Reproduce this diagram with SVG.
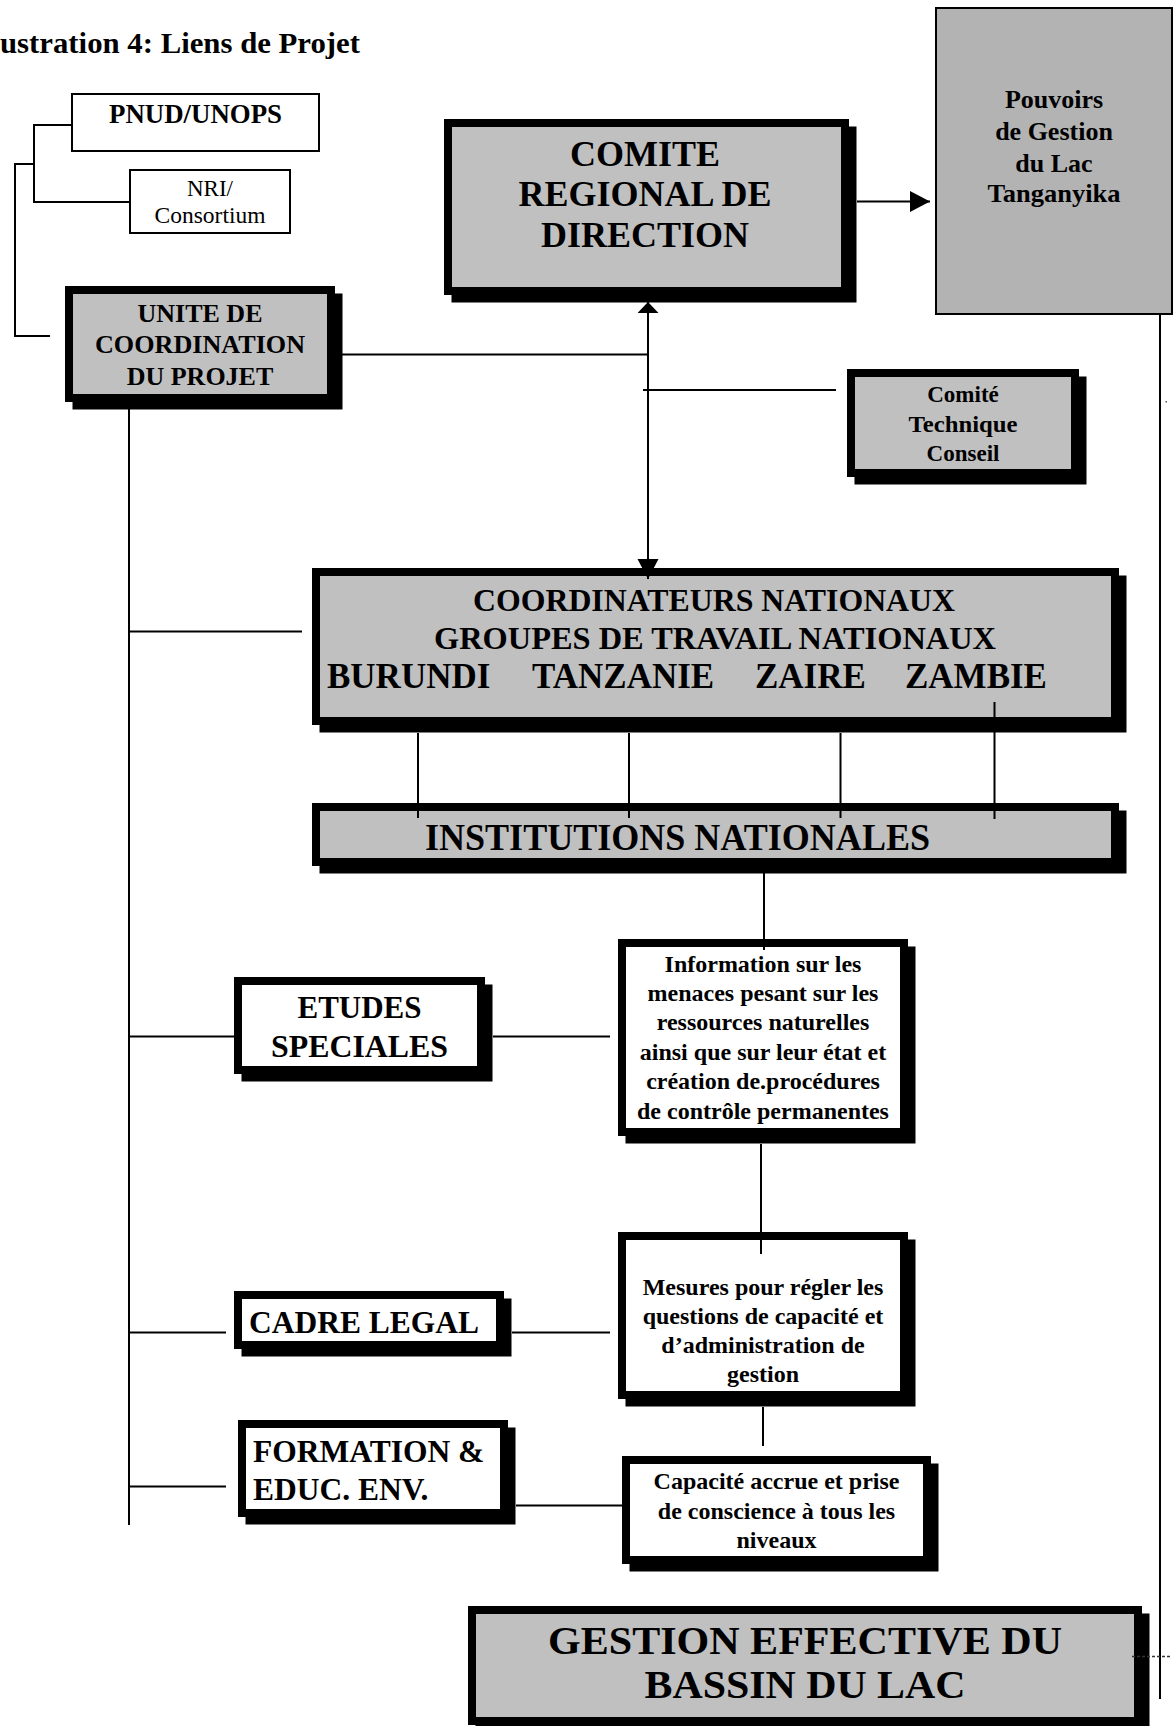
<svg xmlns="http://www.w3.org/2000/svg" width="1174" height="1726" viewBox="0 0 1174 1726">
<style>
text{font-family:"Liberation Serif","Times New Roman",serif;font-weight:bold;fill:#000}
.c{text-anchor:middle}
.n{font-weight:normal}
.sh{fill:#000}
.g{fill:#c0c0c0;stroke:#000;stroke-width:8}
.w{fill:#fff;stroke:#000;stroke-width:8}
.thin{fill:#fff;stroke:#000;stroke-width:2}
.ln{stroke:#000;stroke-width:2;fill:none}
</style>
<defs>
<marker id="arr" markerUnits="userSpaceOnUse" markerWidth="21" markerHeight="22" refX="20" refY="10.5" orient="auto"><path d="M0,0 L20,10.5 L0,21 z" fill="#000"/></marker>
<marker id="arrS" markerUnits="userSpaceOnUse" markerWidth="12" markerHeight="22" refX="11" refY="10.5" orient="auto-start-reverse"><path d="M0,0 L11,10.5 L0,21 z" fill="#000"/></marker>
</defs>
<rect width="1174" height="1726" fill="#fff"/>
<text id="title" x="0" y="53" font-size="30" textLength="360" lengthAdjust="spacingAndGlyphs">ustration 4: Liens de Projet</text>

<g id="pnud">
<rect class="thin" x="72" y="94" width="247" height="57"/>
<text class="c" x="195.5" y="123" font-size="28" textLength="173" lengthAdjust="spacingAndGlyphs">PNUD/UNOPS</text>
</g>
<g id="nri">
<rect class="thin" x="130" y="170" width="160" height="63"/>
<text class="c n" x="210" y="196" font-size="23">NRI/</text>
<text class="c n" x="210" y="223" font-size="23" textLength="111" lengthAdjust="spacingAndGlyphs">Consortium</text>
</g>
<g id="unite">
<rect class="sh" x="72.5" y="293.5" width="270" height="116"/>
<rect class="g" x="69" y="290" width="262" height="108"/>
<text class="c" x="200" y="322" font-size="26">UNITE DE</text>
<text class="c" x="200" y="353" font-size="26" textLength="210" lengthAdjust="spacingAndGlyphs">COORDINATION</text>
<text class="c" x="200" y="385" font-size="26">DU PROJET</text>
</g>
<g id="comite">
<rect class="sh" x="451.5" y="126.5" width="405" height="176"/>
<rect class="g" x="448" y="123" width="397" height="168"/>
<text class="c" x="645" y="166" font-size="36">COMITE</text>
<text class="c" x="645" y="206" font-size="36">REGIONAL DE</text>
<text class="c" x="645" y="247" font-size="36">DIRECTION</text>
</g>
<g id="pouvoirs">
<rect x="936" y="8" width="236" height="306" fill="#b3b3b3" stroke="#000" stroke-width="2"/>
<text class="c" x="1054" y="108" font-size="26">Pouvoirs</text>
<text class="c" x="1054" y="140" font-size="26">de Gestion</text>
<text class="c" x="1054" y="171.5" font-size="26">du Lac</text>
<text class="c" x="1054" y="202" font-size="26" textLength="133" lengthAdjust="spacingAndGlyphs">Tanganyika</text>
</g>
<g id="ctc">
<rect class="sh" x="854.5" y="376.5" width="232" height="108"/>
<rect class="g" x="851" y="373" width="224" height="100"/>
<text class="c" x="963" y="402" font-size="23">Comité</text>
<text class="c" x="963" y="432" font-size="23" textLength="109" lengthAdjust="spacingAndGlyphs">Technique</text>
<text class="c" x="963" y="461" font-size="23">Conseil</text>
</g>
<g id="coord">
<rect class="sh" x="319.5" y="575.5" width="807" height="157"/>
<rect class="g" x="316" y="572" width="799" height="149"/>
<text class="c" x="714" y="611" font-size="32" textLength="482" lengthAdjust="spacingAndGlyphs">COORDINATEURS NATIONAUX</text>
<text class="c" x="715" y="649" font-size="32" textLength="562" lengthAdjust="spacingAndGlyphs">GROUPES DE TRAVAIL NATIONAUX</text>
<text y="688" font-size="35"><tspan x="327">BURUNDI</tspan><tspan x="532">TANZANIE</tspan><tspan x="755">ZAIRE</tspan><tspan x="905">ZAMBIE</tspan></text>
</g>
<g id="inst">
<rect class="sh" x="319.5" y="810.5" width="807" height="63"/>
<rect class="g" x="316" y="807" width="799" height="55"/>
<text x="425" y="850" font-size="37" textLength="505" lengthAdjust="spacingAndGlyphs">INSTITUTIONS NATIONALES</text>
</g>
<g id="etudes">
<rect class="sh" x="241.5" y="984.5" width="251" height="97"/>
<rect class="w" x="238" y="981" width="243" height="89"/>
<text class="c" x="359.5" y="1018" font-size="31">ETUDES</text>
<text class="c" x="359.5" y="1057" font-size="31" textLength="177" lengthAdjust="spacingAndGlyphs">SPECIALES</text>
</g>
<g id="info">
<rect class="sh" x="625.5" y="946.5" width="290" height="197"/>
<rect class="w" x="622" y="943" width="282" height="189"/>
<g font-size="24">
<text class="c" x="763" y="972">Information sur les</text>
<text class="c" x="763" y="1001">menaces pesant sur les</text>
<text class="c" x="763" y="1030">ressources naturelles</text>
<text class="c" x="763" y="1059.5">ainsi que sur leur état et</text>
<text class="c" x="763" y="1089">création de.procédures</text>
<text class="c" x="763" y="1118.5">de contrôle permanentes</text>
</g>
</g>
<g id="cadre">
<rect class="sh" x="241.5" y="1298.5" width="270" height="58"/>
<rect class="w" x="238" y="1295" width="262" height="50"/>
<text x="249" y="1333" font-size="32" textLength="230" lengthAdjust="spacingAndGlyphs">CADRE LEGAL</text>
</g>
<g id="mesures">
<rect class="sh" x="625.5" y="1239.5" width="290" height="167"/>
<rect class="w" x="622" y="1236" width="282" height="159"/>
<g font-size="24">
<text class="c" x="763" y="1294.5">Mesures pour régler les</text>
<text class="c" x="763" y="1323.5">questions de capacité et</text>
<text class="c" x="763" y="1353">d’administration de</text>
<text class="c" x="763" y="1381.5">gestion</text>
</g>
</g>
<g id="formation">
<rect class="sh" x="245.5" y="1427.5" width="270" height="97"/>
<rect class="w" x="242" y="1424" width="262" height="89"/>
<text x="253" y="1462" font-size="31.5">FORMATION &amp;</text>
<text x="253" y="1500" font-size="31.5">EDUC. ENV.</text>
</g>
<g id="capacite">
<rect class="sh" x="629.5" y="1463.5" width="309" height="108"/>
<rect class="w" x="626" y="1460" width="301" height="100"/>
<g font-size="24">
<text class="c" x="776.5" y="1488.5">Capacité accrue et prise</text>
<text class="c" x="776.5" y="1518.5">de conscience à tous les</text>
<text class="c" x="776.5" y="1547.5">niveaux</text>
</g>
</g>
<g id="gestion">
<rect class="sh" x="475.5" y="1613.5" width="674" height="119"/>
<rect class="g" x="472" y="1610" width="666" height="111"/>
<text class="c" x="805" y="1654" font-size="40" textLength="514" lengthAdjust="spacingAndGlyphs">GESTION EFFECTIVE DU</text>
<text class="c" x="805" y="1698" font-size="40" textLength="321" lengthAdjust="spacingAndGlyphs">BASSIN DU LAC</text>
</g>

<g id="connectors" class="ln">
<path d="M72,125 H34 V202 H130"/>
<path d="M34,164 H15 V336 H50"/>
<path d="M342,354.5 H648"/>
<path d="M643,390 H836"/>
<path d="M648,302 V579" marker-start="url(#arrS)" marker-end="url(#arr)"/>
<path d="M857,201.5 H930" marker-end="url(#arr)"/>
<path d="M1160,314 V1699"/>
<path d="M1132,1656.5 H1172" stroke-width="1.5" stroke-dasharray="3,2" stroke="#333"/>
<path d="M129,409 V1525"/>
<path d="M129,631.5 H302"/>
<path d="M418,733 V818 M629,733 V818 M840.5,733 V818 M994.5,702 V819"/>
<path d="M764,873 V950"/>
<path d="M129,1036.5 H234 M493,1036.5 H610"/>
<path d="M761,1144 V1254"/>
<path d="M129,1332.5 H226 M512,1332.5 H610"/>
<path d="M763,1407 V1446"/>
<path d="M129,1486.5 H226 M516,1505.5 H622"/>
</g>
<rect x="1165.5" y="401" width="1.5" height="1.5" fill="#555"/>
</svg>
